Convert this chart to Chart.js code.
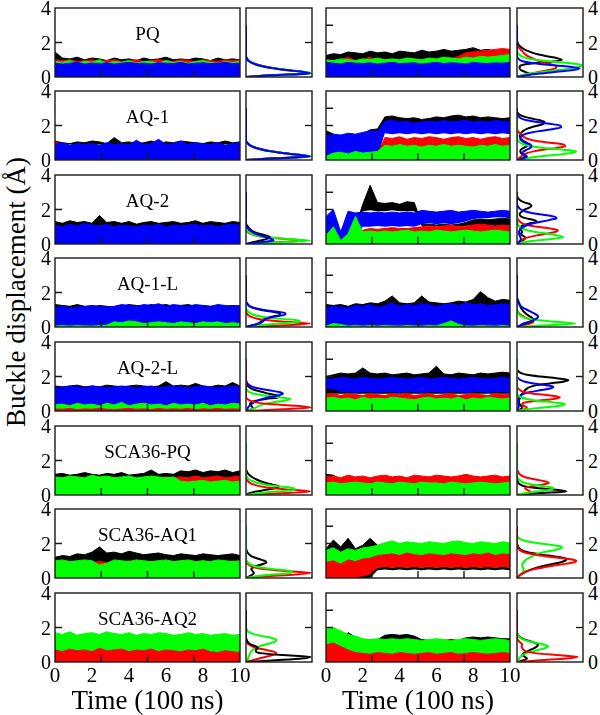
<!DOCTYPE html>
<html>
<head>
<meta charset="utf-8">
<script src="https://cdn.jsdelivr.net/npm/chart.js@4.4.0/dist/chart.umd.min.js"></script>
<style>
  body { margin: 0; background: #fff; }
  #fig { position: relative; width: 600px; height: 715px; overflow: hidden; background: #fff;
         font-family: "Liberation Serif", "Times New Roman", serif; color: #000; }
  #fig canvas { position: absolute; }
  .lbl { position: absolute; white-space: nowrap; line-height: 1; }
</style>
</head>
<body>
<div id="fig"></div>
<script>
// time axis (100 ns) and histogram levels (Å)
const timeAxis = [0,0.4,0.8,1.2,1.6,2,2.4,2.8,3.2,3.6,4,4.4,4.8,5.2,5.6,6,6.4,6.8,7.2,7.6,8,8.4,8.8,9.2,9.6,10];
const histLevels = [0,0.1,0.2,0.3,0.4,0.5,0.6,0.7,0.8,0.9,1,1.1,1.2,1.3,1.4,1.5,1.6,1.7,1.8,1.9,2,2.1,2.2,2.3,2.4,2.5,2.6,2.7,2.8,2.9,3];
const xTickLabels = ["0","2","4","6","8","10"];
const yTickLabels = ["4","2","0"];
const titles = ["PQ","AQ-1","AQ-2","AQ-1-L","AQ-2-L","SCA36-PQ","SCA36-AQ1","SCA36-AQ2"];

// ---- time series: upper edge of each trace band (lo = lower edge where needed)
// PQ
const pqLk = [1.45,1.1,1.05,1.15,1.0,1.1,1.05,0.95,1.1,1.0,1.05,0.95,1.1,1.0,1.05,1.15,1.0,1.05,1.0,1.1,1.05,0.95,1.1,1.0,1.05,1.0];
const pqLr = [1.0,0.95,1.0,0.9,0.95,1.0,0.9,0.95,1.0,0.9,0.95,1.0,0.9,0.95,1.0,0.95,0.9,1.0,0.95,0.9,1.0,0.95,0.9,1.0,0.95,1.0];
const pqLg = [0.9,0.85,0.95,0.8,0.9,0.85,1.0,0.8,0.9,0.85,0.95,0.8,0.9,0.9,0.8,0.95,0.85,0.9,0.8,0.9,0.95,0.85,0.8,0.9,0.85,0.9];
const pqLb = [0.8,0.75,0.8,0.85,0.75,0.8,0.78,0.82,0.75,0.8,0.85,0.78,0.8,0.75,0.82,0.8,0.78,0.85,0.75,0.8,0.82,0.78,0.8,0.85,0.78,0.8];
const pqRk = [1.25,1.35,1.3,1.45,1.4,1.35,1.5,1.4,1.45,1.35,1.5,1.45,1.4,1.55,1.45,1.5,1.6,1.5,1.55,1.6,1.7,1.55,1.6,1.5,1.45,1.5];
const pqRr = [0.95,0.9,1.0,1.15,0.95,1.0,1.15,0.95,1.0,0.95,0.95,1.05,1.0,0.95,1.05,1.0,1.1,1.05,1.2,1.4,1.45,1.5,1.55,1.6,1.65,1.6];
const pqRg = [1.0,0.95,1.05,1.0,0.95,1.05,1.0,1.1,1.0,1.05,1.0,1.1,1.05,1.0,1.1,1.05,1.15,1.1,1.05,1.15,1.1,1.2,1.15,1.2,1.25,1.3];
const pqRb = [0.85,0.8,0.75,0.85,0.8,0.78,0.82,0.75,0.8,0.85,0.78,0.8,0.82,0.75,0.8,0.85,0.78,0.82,0.8,0.75,0.85,0.8,0.78,0.82,0.8,0.85];
// AQ-1
const aq1Lk = [1.1,1.0,0.95,1.05,1.0,1.1,1.05,0.95,1.3,1.0,1.05,0.95,1.0,1.1,0.95,1.05,1.0,1.1,1.05,1.0,0.95,1.05,1.0,1.1,1.0,1.05];
const aq1Lr = [1.05,0.9,0.85,0.9,0.85,0.9,0.85,0.9,0.85,0.9,0.85,0.9,0.85,0.9,0.85,0.9,0.85,0.9,0.85,0.9,0.85,0.9,0.85,0.9,0.85,0.9];
const aq1Lg = [0.85,0.8,0.9,0.75,0.85,0.8,0.9,0.8,0.85,0.75,0.85,0.8,0.9,0.8,0.85,0.75,0.85,0.9,0.8,0.85,0.8,0.85,0.75,0.9,0.85,0.8];
const aq1Lb = [0.9,1.0,0.85,0.95,0.9,0.95,0.85,1.0,0.9,0.95,0.85,1.15,0.9,0.95,1.2,0.9,0.95,1.1,0.9,1.0,0.95,0.9,1.0,0.85,0.95,1.0];
const aq1Rk = [1.7,1.5,1.3,1.4,1.35,1.5,1.75,1.8,2.5,2.55,2.45,2.4,2.45,2.35,2.4,2.5,2.45,2.55,2.6,2.5,2.55,2.45,2.5,2.45,2.4,2.45];
const aq1RkLo = [0,0,0,0,0,0,0,0,1.7,1.7,1.7,1.65,1.7,1.7,1.65,1.7,1.7,1.65,1.7,1.7,1.65,1.7,1.7,1.65,1.7,1.7];
const aq1Rb = [1.4,1.5,1.45,1.55,1.5,1.6,1.7,1.65,2.25,2.3,2.2,2.25,2.15,2.2,2.25,2.2,2.3,2.2,2.25,2.3,2.2,2.25,2.2,2.3,2.25,2.2];
const aq1RbLo = [0.1,0.3,0.35,0.3,0.4,0.35,0.3,0.4,1.55,1.5,1.55,1.5,1.55,1.5,1.55,1.5,1.55,1.5,1.55,1.5,1.55,1.5,1.55,1.5,1.55,1.5];
const aq1Rr = [0.2,0.3,0.25,0.3,0.3,0.25,0.3,0.3,1.3,1.25,1.35,1.2,1.3,1.25,1.35,1.3,1.2,1.3,1.35,1.25,1.3,1.2,1.3,1.35,1.25,1.3];
const aq1Rg = [0.2,0.4,0.45,0.35,0.5,0.4,0.45,0.5,0.85,0.8,0.9,0.8,0.85,0.75,0.85,0.8,0.9,0.8,0.85,0.8,0.75,0.85,0.8,0.9,0.8,0.85];
// AQ-2
const aq2Lk = [1.3,1.2,1.35,1.25,1.3,1.2,1.65,1.25,1.3,1.2,1.3,1.15,1.25,1.3,1.2,1.25,1.3,1.2,1.25,1.35,1.2,1.3,1.25,1.2,1.3,1.25];
const aq2Lr = [0.9,0.95,0.85,1.0,0.9,0.95,0.9,1.0,0.85,0.95,0.9,1.0,0.9,0.95,0.85,1.0,0.9,0.95,0.9,1.0,0.85,0.95,0.9,1.0,0.9,0.95];
const aq2Lg = [0.5,0.55,0.45,0.6,0.5,0.55,0.5,0.6,0.45,0.55,0.5,0.6,0.5,0.55,0.45,0.6,0.5,0.55,0.5,0.6,0.45,0.55,0.5,0.6,0.5,0.55];
const aq2Lb = [1.1,1.0,1.15,1.05,1.2,1.1,1.05,1.15,1.0,1.1,1.05,1.0,1.1,1.05,1.15,1.0,1.1,1.05,1.1,1.15,1.05,1.1,1.0,1.1,1.15,1.1];
const aq2Rk = [1.5,0.5,0.3,0.4,1.0,2.3,3.4,2.4,2.35,2.4,2.3,2.45,2.4,1.15,1.15,1.1,1.15,1.1,1.15,1.25,1.4,1.45,1.4,1.45,1.5,1.45];
const aq2RkLo = [0,0,0,0,0,1.9,1.95,1.9,1.9,1.95,1.9,1.9,1.9,1.05,1.05,1.05,1.05,1.05,1.05,1.05,1.05,1.05,1.0,1.0,1.0,1.0];
const aq2Rb = [1.6,2.0,0.7,1.9,1.8,1.85,1.8,1.85,1.8,1.85,1.8,1.85,1.8,1.95,1.9,1.85,1.9,1.95,1.85,1.9,1.95,1.9,1.85,1.9,1.95,1.9];
const aq2RbLo = [0,0,0,0,0.3,1.0,1.0,1.05,1.0,1.05,1.0,1.05,1.0,1.15,1.2,1.15,1.2,1.15,1.2,1.3,1.45,1.5,1.5,1.55,1.55,1.5];
const aq2Rr = [0.1,0.2,0.1,0.2,0.3,0.8,0.9,0.85,0.9,0.95,0.9,0.9,0.95,1.0,1.05,1.0,1.05,1.1,1.0,1.05,1.1,1.15,1.1,1.05,1.1,1.05];
const aq2Rg = [0.5,1.0,0.2,0.6,1.6,0.7,0.75,0.7,0.75,0.7,0.75,0.8,0.7,0.75,0.7,0.8,0.75,0.7,0.75,0.8,0.75,0.7,0.75,0.8,0.75,0.7];
// AQ-1-L
const aq1lLk = [1.3,1.25,1.2,1.3,1.2,1.15,1.25,1.2,1.15,1.2,1.3,1.25,1.2,1.3,1.25,1.3,1.2,1.25,1.3,1.2,1.25,1.2,1.15,1.2,1.25,1.2];
const aq1lLr = [0.15,0.2,0.1,0.2,0.15,0.25,0.15,0.2,0.1,0.2,0.15,0.25,0.2,0.15,0.2,0.1,0.2,0.15,0.25,0.2,0.15,0.2,0.1,0.2,0.15,0.2];
const aq1lLb = [1.15,1.2,1.1,1.15,1.2,1.25,1.2,1.15,1.2,1.3,1.25,1.2,1.3,1.25,1.35,1.2,1.3,1.25,1.2,1.3,1.25,1.2,1.3,1.25,1.2,1.25];
const aq1lLg = [0.05,0.08,0.05,0.08,0.06,0.05,0.08,0.1,0.3,0.25,0.35,0.3,0.2,0.25,0.3,0.25,0.2,0.3,0.25,0.2,0.3,0.25,0.3,0.2,0.25,0.2];
const aq1lRk = [1.3,1.25,1.3,1.2,1.35,1.3,1.4,1.35,1.5,1.8,1.4,1.35,1.4,1.8,1.45,1.4,1.35,1.4,1.5,1.45,1.6,2.05,1.7,1.5,1.6,1.55];
const aq1lRr = [0.9,0.95,0.85,0.9,0.95,0.9,1.0,0.9,0.95,0.85,0.9,0.95,1.0,0.9,0.85,0.95,0.9,1.0,0.9,0.95,0.85,0.9,0.95,0.9,1.0,0.9];
const aq1lRb = [1.1,1.2,1.15,1.1,1.25,1.2,1.3,1.15,1.25,1.4,1.2,1.3,1.25,1.35,1.3,1.2,1.3,1.35,1.25,1.4,1.3,1.35,1.25,1.3,1.35,1.3];
const aq1lRg = [0.05,0.2,0.15,0.05,0.08,0.05,0.08,0.05,0.08,0.06,0.05,0.08,0.06,0.05,0.08,0.06,0.2,0.35,0.15,0.06,0.05,0.08,0.06,0.05,0.08,0.05];
// AQ-2-L
const aq2lLk = [1.45,1.4,1.45,1.5,1.4,1.45,1.4,1.5,1.45,1.4,1.45,1.5,1.45,1.4,1.45,1.7,1.45,1.5,1.45,1.6,1.45,1.4,1.5,1.45,1.65,1.45];
const aq2lLb = [1.4,1.35,1.45,1.4,1.35,1.45,1.4,1.35,1.4,1.45,1.4,1.35,1.4,1.45,1.35,1.4,1.45,1.4,1.35,1.4,1.45,1.4,1.35,1.4,1.45,1.4];
const aq2lLg = [0.35,0.4,0.3,0.45,0.35,0.4,0.3,0.45,0.35,0.5,0.3,0.4,0.45,0.35,0.4,0.3,0.45,0.35,0.4,0.35,0.45,0.3,0.4,0.35,0.45,0.4];
const aq2lLr = [0.12,0.1,0.15,0.08,0.12,0.1,0.15,0.1,0.08,0.12,0.15,0.1,0.12,0.08,0.15,0.1,0.12,0.1,0.15,0.08,0.12,0.1,0.15,0.1,0.12,0.1];
const aq2lRk = [2.0,2.1,2.2,2.15,2.2,2.5,2.2,2.15,2.2,2.1,2.15,2.2,2.1,2.15,2.2,2.6,2.15,2.1,2.2,2.15,2.1,2.2,2.15,2.2,2.25,2.2];
const aq2lRb = [1.9,1.85,1.95,1.9,1.85,1.95,1.9,1.85,1.9,1.95,1.9,1.85,1.9,1.95,1.85,1.9,1.95,1.9,1.85,1.9,1.95,1.9,1.85,1.9,1.95,1.9];
const aq2lRbLo = [1.3,1.25,1.1,1.1,1.05,1.1,1.1,1.05,1.1,1.1,1.05,1.1,1.1,1.05,1.1,1.1,1.05,1.1,1.1,1.05,1.1,1.1,1.05,1.1,1.1,1.05];
const aq2lRr = [0.95,1.0,0.9,1.0,0.95,0.9,1.0,0.95,0.9,1.0,0.95,1.0,0.9,0.95,1.0,0.9,0.95,1.0,0.9,0.95,1.0,0.95,0.9,1.0,0.95,0.95];
const aq2lRg = [0.75,0.8,0.7,0.75,0.65,0.8,0.7,0.75,0.7,0.8,0.75,0.7,0.65,0.75,0.8,0.7,0.75,0.7,0.8,0.65,0.75,0.7,0.8,0.75,0.7,0.75];
// SCA36-PQ
const s36pqLk = [1.2,1.25,1.15,1.2,1.3,1.2,1.15,1.25,1.2,1.3,1.15,1.2,1.25,1.45,1.2,1.25,1.2,1.4,1.35,1.45,1.3,1.4,1.35,1.45,1.3,1.4];
const s36pqLr = [1.0,0.95,1.0,1.05,0.95,1.0,0.95,1.0,1.05,0.95,1.0,0.95,1.0,0.95,1.0,1.05,1.0,1.05,1.0,1.1,1.0,1.05,1.1,1.0,1.05,1.1];
const s36pqLg = [1.05,1.0,1.1,1.05,1.0,1.15,1.05,1.1,1.0,1.05,1.1,1.0,1.05,1.1,1.05,1.0,1.05,0.8,0.75,0.8,0.85,0.75,0.8,0.85,0.75,0.8];
const s36pqRk = [1.2,1.15,0.9,0.95,0.85,1.0,0.9,0.95,0.85,0.9,1.0,0.9,0.95,0.9,0.85,0.95,1.0,0.9,0.95,0.85,0.9,1.0,0.9,0.95,0.9,0.85];
const s36pqRr = [1.05,1.1,1.0,1.15,1.05,1.1,1.0,1.1,1.15,1.05,1.1,1.0,1.15,1.1,1.05,1.15,1.1,1.05,1.1,1.2,1.1,1.05,1.1,1.15,1.05,1.1];
const s36pqRg = [0.7,0.75,0.65,0.7,0.75,0.7,0.65,0.75,0.7,0.65,0.75,0.7,0.65,0.75,0.7,0.7,0.65,0.75,0.7,0.65,0.7,0.75,0.7,0.65,0.7,0.75];
// SCA36-AQ1
const s36aq1Lk = [1.2,1.3,1.25,1.4,1.35,1.5,1.8,1.45,1.5,1.4,1.55,1.45,1.35,1.4,1.45,1.35,1.3,1.4,1.35,1.3,1.4,1.35,1.3,1.35,1.4,1.3];
const s36aq1Lr = [0.95,1.0,0.9,0.95,1.0,0.9,0.95,0.9,0.95,0.9,1.0,0.95,0.9,0.95,1.0,0.9,0.95,1.0,0.9,0.95,1.0,0.9,0.95,0.9,1.0,0.95];
const s36aq1Lg = [1.0,1.05,0.95,1.0,1.05,1.0,0.75,0.85,1.05,1.0,0.95,1.05,1.0,0.95,1.0,1.05,0.95,1.0,1.05,0.95,1.0,0.95,1.05,1.0,0.95,1.0];
const s36aq1Rk = [1.7,2.2,1.8,2.3,1.7,1.9,2.3,1.9,1.9,1.85,1.9,1.8,1.85,1.9,1.8,1.85,1.9,1.85,1.8,1.9,1.85,1.8,1.9,1.85,1.8,1.85];
const s36aq1RkLo = [0,0,0,0,0,0,0,0.45,0.5,0.45,0.5,0.45,0.5,0.45,0.5,0.45,0.5,0.45,0.5,0.45,0.5,0.45,0.5,0.45,0.5,0.45];
const s36aq1Rg = [1.6,1.75,1.5,1.7,1.6,1.75,1.8,1.9,2.05,2.15,2.0,2.1,2.05,2.0,2.1,2.05,2.0,2.1,2.15,2.05,2.0,2.1,2.05,2.0,2.1,2.05];
const s36aq1RgLo = [0.2,0.25,0.2,0.25,0.3,0.3,0.4,0.6,0.65,0.6,0.65,0.6,0.65,0.6,0.65,0.6,0.65,0.6,0.65,0.6,0.65,0.6,0.65,0.6,0.65,0.6];
const s36aq1Rr = [0.9,1.0,0.8,1.05,0.95,1.1,1.15,1.3,1.35,1.4,1.3,1.45,1.35,1.3,1.4,1.35,1.3,1.4,1.35,1.3,1.4,1.35,1.45,1.3,1.4,1.35];
const s36aq1RrLo = [0,0,0,0,0,0.1,0.2,0.6,0.65,0.6,0.65,0.6,0.65,0.6,0.65,0.6,0.65,0.6,0.65,0.6,0.65,0.6,0.65,0.6,0.65,0.6];
// SCA36-AQ2
const s36aq2Lk = [0.45,0.4,0.5,0.4,0.45,0.5,0.4,0.45,0.5,0.4,0.45,0.4,0.5,0.45,0.4,0.5,0.45,0.4,0.45,0.5,0.4,0.45,0.5,0.4,0.45,0.4];
const s36aq2Lg = [1.7,1.6,1.75,1.55,1.65,1.7,1.6,1.75,1.65,1.6,1.7,1.55,1.65,1.6,1.7,1.65,1.55,1.6,1.7,1.6,1.65,1.55,1.6,1.65,1.55,1.6];
const s36aq2Lr = [0.7,0.6,0.75,0.65,0.7,0.6,0.8,0.65,0.7,0.75,0.6,0.7,0.65,0.75,0.6,0.7,0.65,0.6,0.7,0.65,0.75,0.6,0.55,0.65,0.6,0.55];
const s36aq2Rk = [0.3,0.3,0.9,1.7,1.45,1.3,1.3,1.3,1.55,1.6,1.55,1.6,1.5,1.3,1.25,1.3,1.25,1.3,1.25,1.4,1.45,1.4,1.45,1.4,1.35,1.35];
const s36aq2Rg = [1.9,2.0,1.8,1.6,1.5,1.35,1.3,1.35,1.3,1.35,1.3,1.35,1.3,1.25,1.3,1.35,1.3,1.25,1.3,1.35,1.3,1.25,1.3,1.35,1.3,1.25];
const s36aq2Rr = [1.0,1.1,0.9,0.7,0.55,0.5,0.45,0.55,0.5,0.45,0.55,0.5,0.45,0.5,0.55,0.45,0.5,0.55,0.45,0.5,0.55,0.5,0.45,0.5,0.55,0.5];

// ---- distributions: width (fraction of panel) at each histLevel, zero beyond list end
const pqLHk = [0,0.35,0.9,0.85,0.62,0.45,0.3,0.19,0.11,0.06,0.03,0.01];
const pqLHr = [0,0.4,0.95,0.85,0.6,0.43,0.29,0.18,0.1,0.05,0.02];
const pqLHg = [0,0.45,1.0,0.88,0.6,0.42,0.28,0.17,0.1,0.05,0.02];
const pqLHb = [0,0.4,0.97,0.85,0.6,0.42,0.28,0.17,0.1,0.05,0.02,0.01];
const pqRHk = [0,0.12,0.18,0.12,0.06,0.04,0.04,0.08,0.25,0.55,0.68,0.6,0.45,0.33,0.24,0.17,0.11,0.07,0.04,0.02,0.01];
const pqRHr = [0,0.08,0.2,0.35,0.48,0.58,0.6,0.55,0.45,0.35,0.28,0.22,0.17,0.13,0.1,0.08,0.05,0.03,0.01];
const pqRHg = [0,0.08,0.2,0.4,0.62,0.82,0.95,0.98,0.8,0.5,0.28,0.14,0.07,0.03,0.01];
const pqRHb = [0,0.15,0.35,0.6,0.85,0.95,0.8,0.5,0.25,0.1,0.04,0.01];
const aq1LHk = [0,0.4,0.92,0.8,0.56,0.4,0.27,0.16,0.09,0.05,0.02];
const aq1LHr = [0,0.42,0.95,0.8,0.55,0.38,0.25,0.15,0.08,0.04,0.02];
const aq1LHg = [0,0.5,1.0,0.82,0.55,0.37,0.24,0.14,0.08,0.04,0.02];
const aq1LHb = [0,0.45,0.97,0.8,0.55,0.38,0.25,0.15,0.08,0.04,0.02];
const aq1RHk = [0,0.08,0.12,0.1,0.06,0.05,0.06,0.1,0.15,0.18,0.15,0.1,0.07,0.05,0.04,0.05,0.07,0.1,0.15,0.22,0.32,0.4,0.42,0.35,0.22,0.12,0.05,0.02];
const aq1RHr = [0,0.03,0.06,0.1,0.15,0.25,0.4,0.6,0.73,0.7,0.5,0.3,0.18,0.12,0.08,0.05,0.03,0.01];
const aq1RHg = [0,0.15,0.35,0.6,0.82,0.9,0.7,0.4,0.2,0.1,0.05,0.02];
const aq1RHb = [0,0.1,0.15,0.12,0.08,0.1,0.15,0.2,0.22,0.2,0.12,0.08,0.05,0.05,0.07,0.12,0.22,0.38,0.55,0.67,0.65,0.5,0.3,0.15,0.07,0.03,0.01];
const aq2LHk = [0,0.1,0.22,0.32,0.36,0.3,0.2,0.12,0.08,0.05,0.03,0.01];
const aq2LHb = [0,0.2,0.42,0.38,0.3,0.22,0.14,0.09,0.05,0.03,0.01];
const aq2LHg = [0,0.5,0.97,0.6,0.3,0.15,0.07,0.03,0.01];
const aq2LHr = [0,0.45,0.9,0.55,0.28,0.14,0.06,0.02];
const aq2RHk = [0,0.05,0.08,0.12,0.12,0.08,0.06,0.08,0.06,0.05,0.06,0.1,0.2,0.3,0.25,0.12,0.06,0.04,0.05,0.08,0.12,0.18,0.22,0.2,0.12,0.06,0.03,0.01];
const aq2RHb = [0,0.03,0.05,0.06,0.05,0.04,0.03,0.03,0.04,0.06,0.1,0.16,0.25,0.38,0.5,0.6,0.55,0.4,0.22,0.12,0.06,0.03,0.01];
const aq2RHr = [0,0.02,0.05,0.1,0.18,0.3,0.45,0.58,0.62,0.5,0.3,0.15,0.08,0.04,0.02];
const aq2RHg = [0,0.1,0.3,0.55,0.7,0.62,0.45,0.28,0.15,0.08,0.04,0.02,0.01];
const aq1lLHk = [0,0.1,0.18,0.22,0.25,0.3,0.4,0.52,0.5,0.38,0.22,0.12,0.06,0.03,0.01];
const aq1lLHr = [0,0.6,0.97,0.6,0.3,0.15,0.07,0.03,0.01];
const aq1lLHg = [0,0.2,0.5,0.82,0.75,0.45,0.25,0.12,0.06,0.03,0.01];
const aq1lLHb = [0,0.1,0.2,0.25,0.28,0.32,0.42,0.58,0.6,0.45,0.25,0.12,0.06,0.03,0.01];
const aq1lRHk = [0,0.06,0.12,0.2,0.25,0.24,0.2,0.16,0.13,0.1,0.08,0.06,0.05,0.04,0.03,0.02,0.01];
const aq1lRHr = [0,0.1,0.2,0.25,0.22,0.16,0.1,0.06,0.03,0.01];
const aq1lRHg = [0,0.45,0.88,0.6,0.3,0.15,0.08,0.04,0.02,0.01];
const aq1lRHb = [0,0.05,0.1,0.18,0.25,0.3,0.32,0.3,0.25,0.2,0.15,0.1,0.06,0.04,0.02,0.01];
const aq2lLHk = [0,0.08,0.1,0.08,0.06,0.08,0.15,0.3,0.5,0.48,0.35,0.25,0.15,0.08,0.04,0.02,0.01];
const aq2lLHg = [0,0.08,0.15,0.2,0.28,0.4,0.58,0.67,0.5,0.28,0.12,0.05,0.02];
const aq2lLHb = [0,0.02,0.03,0.05,0.08,0.12,0.18,0.25,0.35,0.48,0.56,0.5,0.35,0.2,0.1,0.05,0.02,0.01];
const aq2lLHr = [0,0.55,0.98,0.75,0.35,0.15,0.06,0.02];
const aq2lRHk = [0,0.05,0.08,0.06,0.04,0.03,0.03,0.04,0.05,0.06,0.08,0.1,0.12,0.15,0.2,0.3,0.5,0.7,0.78,0.6,0.35,0.15,0.06,0.02];
const aq2lRHb = [0,0.01,0.02,0.03,0.02,0.02,0.02,0.02,0.03,0.05,0.1,0.2,0.35,0.5,0.55,0.42,0.25,0.12,0.05,0.02];
const aq2lRHr = [0,0.12,0.15,0.1,0.08,0.12,0.3,0.55,0.65,0.5,0.25,0.1,0.05,0.02];
const aq2lRHg = [0,0.15,0.4,0.65,0.73,0.55,0.3,0.15,0.06,0.02];
const s36pqLHk = [0,0.05,0.15,0.3,0.45,0.5,0.4,0.3,0.22,0.16,0.11,0.07,0.04,0.02,0.01];
const s36pqLHr = [0,0.5,0.97,0.7,0.4,0.22,0.12,0.06,0.03,0.01];
const s36pqLHg = [0,0.2,0.45,0.75,0.72,0.5,0.3,0.18,0.1,0.05,0.02,0.01];
const s36pqRHk = [0,0.3,0.75,0.6,0.3,0.12,0.05,0.02,0.01];
const s36pqRHr = [0,0.15,0.2,0.15,0.12,0.2,0.38,0.48,0.42,0.28,0.15,0.08,0.04,0.02,0.01];
const s36pqRHg = [0,0.12,0.3,0.5,0.55,0.42,0.25,0.12,0.06,0.03,0.01];
const s36aq1LHk = [0,0.05,0.1,0.12,0.1,0.08,0.1,0.16,0.25,0.31,0.28,0.2,0.12,0.07,0.04,0.02,0.01];
const s36aq1LHr = [0,0.3,0.75,0.98,0.6,0.3,0.15,0.07,0.03,0.01];
const s36aq1LHg = [0,0.15,0.4,0.7,0.68,0.45,0.25,0.12,0.06,0.03,0.01];
const s36aq1RHk = [0,0.03,0.06,0.1,0.15,0.22,0.3,0.4,0.52,0.65,0.73,0.75,0.65,0.48,0.3,0.16,0.08,0.04,0.02,0.01];
const s36aq1RHg = [0,0.03,0.06,0.08,0.1,0.1,0.09,0.08,0.08,0.1,0.12,0.15,0.2,0.25,0.3,0.4,0.55,0.66,0.68,0.55,0.35,0.18,0.08,0.03,0.01];
const s36aq1RHr = [0,0.02,0.05,0.1,0.16,0.25,0.38,0.52,0.7,0.85,0.9,0.78,0.55,0.35,0.2,0.1,0.05,0.02,0.01];
const s36aq2LHg = [0,0.02,0.03,0.04,0.05,0.06,0.08,0.1,0.14,0.2,0.28,0.38,0.45,0.46,0.38,0.25,0.13,0.06,0.02,0.01];
const s36aq2LHr = [0,0.1,0.2,0.3,0.4,0.46,0.42,0.3,0.18,0.1,0.05,0.02,0.01];
const s36aq2LHk = [0,0.45,0.85,0.98,0.55,0.25,0.15,0.15,0.18,0.15,0.08,0.04,0.02,0.01];
const s36aq2RHg = [0,0.02,0.03,0.05,0.08,0.14,0.22,0.32,0.42,0.47,0.42,0.3,0.18,0.1,0.05,0.02,0.01];
const s36aq2RHk = [0,0.1,0.15,0.12,0.08,0.1,0.15,0.2,0.26,0.3,0.32,0.28,0.2,0.12,0.06,0.03,0.01];
const s36aq2RHr = [0,0.35,0.75,0.92,0.6,0.3,0.15,0.1,0.08,0.07,0.08,0.06,0.03,0.01];

// bands/curves listed bottom to top: [colour, upper, lower]
const rows = [
  { lt: [['k',pqLk],['r',pqLr],['g',pqLg],['b',pqLb]],
    rt: [['k',pqRk],['r',pqRr],['g',pqRg],['b',pqRb]],
    lh: [['k',pqLHk],['r',pqLHr],['g',pqLHg],['b',pqLHb]],
    rh: [['k',pqRHk],['r',pqRHr],['g',pqRHg],['b',pqRHb]] },
  { lt: [['k',aq1Lk],['r',aq1Lr],['g',aq1Lg],['b',aq1Lb]],
    rt: [['k',aq1Rk,aq1RkLo],['b',aq1Rb,aq1RbLo],['r',aq1Rr],['g',aq1Rg]],
    lh: [['k',aq1LHk],['r',aq1LHr],['g',aq1LHg],['b',aq1LHb]],
    rh: [['k',aq1RHk],['r',aq1RHr],['g',aq1RHg],['b',aq1RHb]] },
  { lt: [['k',aq2Lk],['r',aq2Lr],['g',aq2Lg],['b',aq2Lb]],
    rt: [['k',aq2Rk,aq2RkLo],['b',aq2Rb,aq2RbLo],['r',aq2Rr],['g',aq2Rg]],
    lh: [['r',aq2LHr],['g',aq2LHg],['k',aq2LHk],['b',aq2LHb]],
    rh: [['k',aq2RHk],['r',aq2RHr],['g',aq2RHg],['b',aq2RHb]] },
  { lt: [['k',aq1lLk],['r',aq1lLr],['b',aq1lLb],['g',aq1lLg]],
    rt: [['k',aq1lRk],['r',aq1lRr],['b',aq1lRb],['g',aq1lRg]],
    lh: [['k',aq1lLHk],['r',aq1lLHr],['g',aq1lLHg],['b',aq1lLHb]],
    rh: [['r',aq1lRHr],['k',aq1lRHk],['g',aq1lRHg],['b',aq1lRHb]] },
  { lt: [['k',aq2lLk],['b',aq2lLb],['g',aq2lLg],['r',aq2lLr]],
    rt: [['k',aq2lRk,1.0],['b',aq2lRb,aq2lRbLo],['r',aq2lRr],['g',aq2lRg]],
    lh: [['k',aq2lLHk],['g',aq2lLHg],['b',aq2lLHb],['r',aq2lLHr]],
    rh: [['k',aq2lRHk],['b',aq2lRHb],['r',aq2lRHr],['g',aq2lRHg]] },
  { lt: [['k',s36pqLk],['r',s36pqLr],['g',s36pqLg]],
    rt: [['k',s36pqRk],['r',s36pqRr],['g',s36pqRg]],
    lh: [['k',s36pqLHk],['r',s36pqLHr],['g',s36pqLHg]],
    rh: [['k',s36pqRHk],['r',s36pqRHr],['g',s36pqRHg]] },
  { lt: [['k',s36aq1Lk],['r',s36aq1Lr],['g',s36aq1Lg]],
    rt: [['k',s36aq1Rk,s36aq1RkLo],['g',s36aq1Rg,s36aq1RgLo],['r',s36aq1Rr,s36aq1RrLo]],
    lh: [['k',s36aq1LHk],['r',s36aq1LHr],['g',s36aq1LHg]],
    rh: [['k',s36aq1RHk],['g',s36aq1RHg],['r',s36aq1RHr]] },
  { lt: [['k',s36aq2Lk],['g',s36aq2Lg],['r',s36aq2Lr]],
    rt: [['k',s36aq2Rk],['g',s36aq2Rg],['r',s36aq2Rr]],
    lh: [['g',s36aq2LHg],['r',s36aq2LHr],['k',s36aq2LHk]],
    rh: [['k',s36aq2RHk],['g',s36aq2RHg],['r',s36aq2RHr]] }
];

const COL = { k: '#000000', r: '#ff0000', g: '#00ff00', b: '#0000ff' };

// panel geometry
const rowTops = [8, 91, 175, 258, 342, 426, 509, 593];
const PH = 69;
const LT = { x: 55, w: 185 }, LH = { x: 246, w: 66 }, RT = { x: 326, w: 184 }, RH = { x: 517, w: 66 };

const fig = document.getElementById('fig');

// box + inward ticks
const frame = {
  id: 'frame',
  afterDatasetsDraw(chart, args, opts) {
    const { ctx, chartArea: { left, right, top, bottom }, scales: { x, y } } = chart;
    ctx.save();
    ctx.strokeStyle = '#1a1a1a';
    ctx.lineWidth = 1.4;
    ctx.strokeRect(left, top, right - left, bottom - top);
    ctx.beginPath();
    (opts.left || []).forEach(v => { const p = y.getPixelForValue(v); ctx.moveTo(left, p); ctx.lineTo(left + 7, p); });
    (opts.right || []).forEach(v => { const p = y.getPixelForValue(v); ctx.moveTo(right, p); ctx.lineTo(right - 7, p); });
    (opts.bottom || []).forEach(v => { const p = x.getPixelForValue(v); ctx.moveTo(p, bottom); ctx.lineTo(p, bottom - 7); });
    ctx.stroke();
    ctx.restore();
  }
};

function makeCanvas(x, y, w, h) {
  const c = document.createElement('canvas');
  c.width = w + 4; c.height = h + 4;
  c.style.left = (x - 2) + 'px'; c.style.top = (y - 2) + 'px';
  c.style.width = (w + 4) + 'px'; c.style.height = (h + 4) + 'px';
  fig.appendChild(c);
  return c;
}

function baseOptions(xmax, ticks) {
  return {
    responsive: false, animation: false, devicePixelRatio: 1, events: [],
    layout: { padding: 2 },
    scales: {
      x: { type: 'linear', display: false, min: 0, max: xmax },
      y: { type: 'linear', display: false, min: 0, max: 4 }
    },
    plugins: { legend: { display: false }, tooltip: { enabled: false }, frame: ticks }
  };
}

function timeChart(box, top, bands, ticks) {
  const sets = [];
  // first dataset is painted last, so push the top band first
  bands.slice().reverse().forEach(([c, hi, lo]) => {
    const i = sets.length;
    const ds = {
      data: hi.map((v, j) => ({ x: timeAxis[j], y: v })),
      borderColor: COL[c], backgroundColor: COL[c], borderWidth: 1, pointRadius: 0, tension: 0
    };
    sets.push(ds);
    if (Array.isArray(lo)) {
      ds.fill = i + 1;
      sets.push({ data: lo.map((v, j) => ({ x: timeAxis[j], y: v })), borderColor: 'rgba(0,0,0,0)', borderWidth: 0, pointRadius: 0, fill: false });
    } else {
      ds.fill = { value: lo || 0 };
    }
  });
  new Chart(makeCanvas(box.x, top, box.w, PH), { type: 'line', data: { datasets: sets }, options: baseOptions(10, ticks), plugins: [frame] });
}

function histChart(box, top, curves) {
  const sets = curves.slice().reverse().map(([c, vals]) => ({
    data: histLevels.map((lv, i) => ({ x: i < vals.length ? vals[i] : 0, y: lv })),
    borderColor: COL[c], borderWidth: 2, pointRadius: 0, fill: false, cubicInterpolationMode: 'monotone'
  }));
  const opts = baseOptions(1, { right: [2] });
  opts.indexAxis = 'y';
  new Chart(makeCanvas(box.x, top, box.w, PH), { type: 'line', data: { datasets: sets }, options: opts, plugins: [frame] });
}

function label(text, x, y, size, align) {
  const d = document.createElement('div');
  d.className = 'lbl';
  d.textContent = text;
  d.style.fontSize = size + 'px';
  d.style.left = x + 'px';
  d.style.top = y + 'px';
  const tx = align === 'right' ? '-100%' : align === 'left' ? '0' : '-50%';
  d.style.transform = 'translate(' + tx + ',-50%)';
  fig.appendChild(d);
  return d;
}

rows.forEach((r, i) => {
  const top = rowTops[i];
  timeChart(LT, top, r.lt, { left: [2], bottom: [2.5, 5, 7.5] });
  histChart(LH, top, r.lh);
  timeChart(RT, top, r.rt, { left: [2, 3], bottom: [2.5, 5, 7.5] });
  histChart(RH, top, r.rh);
  label(titles[i], LT.x + LT.w / 2, top + 25, 19, 'center');
  yTickLabels.forEach((t, k) => {
    label(t, 51, top + k * PH / 2, 20, 'right');
    label(t, 588, top + k * PH / 2, 20, 'left');
  });
});

xTickLabels.forEach((t, k) => {
  label(t, LT.x + LT.w * k / 5, 675, 21, 'center');
  label(t, RT.x + RT.w * k / 5, 675, 21, 'center');
});
label('Time (100 ns)', LT.x + LT.w / 2, 700, 27, 'center');
label('Time (100 ns)', RT.x + RT.w / 2, 700, 27, 'center');
const yt = label('Buckle displacement (Å)', 16, 292, 27, 'center');
yt.style.transform = 'translate(-50%,-50%) rotate(-90deg)';
</script>
</body>
</html>
